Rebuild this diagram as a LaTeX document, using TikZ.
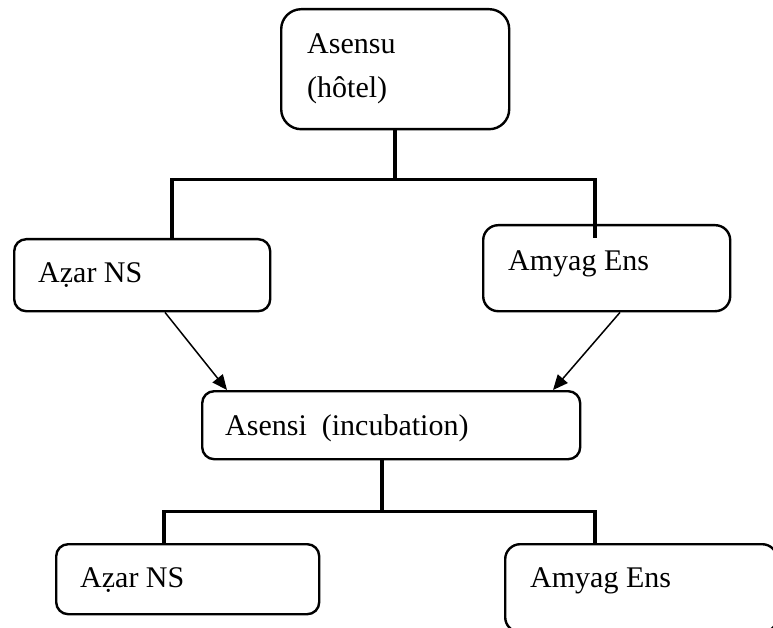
\documentclass[tikz,border=0pt]{standalone}
\usepackage{fontspec}
\setmainfont{Liberation Serif}
\usetikzlibrary{arrows.meta,calc}
\begin{document}
\begin{tikzpicture}[x=1pt,y=-1pt,
  boxnode/.style={draw,line width=2.4pt,rounded corners=12pt,inner sep=0pt,anchor=north west},
  txt/.style={inner sep=0pt,font=\fontsize{30}{44}\selectfont},
  conn/.style={line width=3.6pt},
  arr/.style={line width=1.5pt,-{Triangle[length=15pt,width=13pt]}}]
\useasboundingbox (0,0) rectangle (773,628);
\clip (0,0) rectangle (773,628);
% boxes
\node[boxnode,rounded corners=20pt,minimum width=228pt,minimum height=120pt] (top) at (280,8) {};
\node[boxnode,minimum width=256pt,minimum height=72pt] (lmid) at (13,238) {};
\node[boxnode,rounded corners=15pt,minimum width=247pt,minimum height=86pt] (rmid) at (482,224) {};
\node[boxnode,minimum width=378pt,minimum height=68pt] (cen) at (201,390) {};
\node[boxnode,minimum width=263pt,minimum height=70pt] (bl) at (55,543) {};
\node[boxnode,rounded corners=15pt,minimum width=272pt,minimum height=88pt] (br) at (504,543) {};
% texts
\node[txt,anchor=north west,align=left] (ttop) at (307,33) {Asensu\\(hôtel)};
\node[txt,anchor=base west] (tlmid) at (38,282) {Aẓar NS};
\node[txt,anchor=base west] (trmid) at (508,270) {Amyag Ens};
\node[txt,anchor=base west] (tcen) at (225,435) {Asensi\ \ (incubation)};
\node[txt,anchor=base west] (tbl) at (80,587) {Aẓar NS};
\node[txt,anchor=base west] (tbr) at (530,587) {Amyag Ens};
% connectors
\draw[conn] (top.south) -- ++(0,49) -| ($(lmid.north west)+(159,0)$);
\draw[conn] (top.south) -- ++(0,49) -| ($(rmid.north west)+(113,14)$);
\draw[arr] ($(lmid.south west)+(152,0)$) -- ($(cen.north west)+(26,0)$);
\draw[arr] ($(rmid.south west)+(138,0)$) -- ($(cen.north west)+(352,0)$);
\draw[conn] ($(cen.south west)+(181,0)$) -- ++(0,51) -| ($(bl.north west)+(109,0)$);
\draw[conn] ($(cen.south west)+(181,0)$) -- ++(0,51) -| ($(br.north west)+(91,0)$);
\end{tikzpicture}
\end{document}
